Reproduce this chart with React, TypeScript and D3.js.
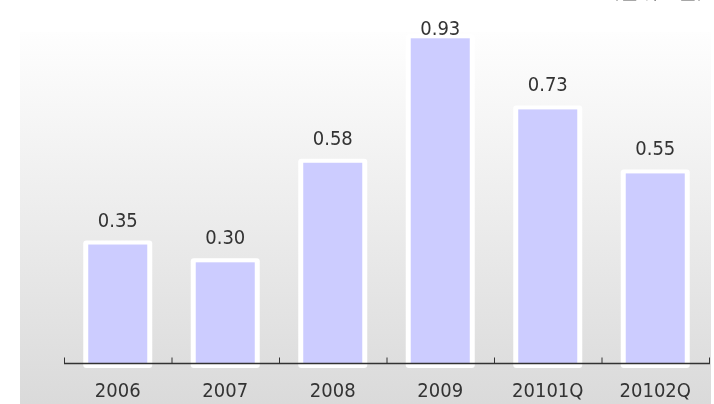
import React from "react";
import * as d3 from "d3";

const categories = ["2006", "2007", "2008", "2009", "20101Q", "20102Q"];
const values = [0.35, 0.3, 0.58, 0.93, 0.73, 0.55];
const unitLabel = "(단위 : 원)";

const W = 714;
const H = 404;
const font = "Tahoma, 'DejaVu Sans Condensed', 'Liberation Sans', sans-serif";

export default function App() {
  const x = d3.scaleBand().domain(categories).range([64, 709]).padding(0);
  const y = d3.scaleLinear().domain([0, 1]).range([369, 13.4]);
  const axisY = 363.5;
  const bw = 59;

  return (
    <svg
      width={W}
      height={H}
      style={{ position: "fixed", left: 0, top: 0, display: "block" }}
    >
      <defs>
        <linearGradient id="bg" x1="0" y1="0" x2="0" y2="1">
          <stop offset="0" stopColor="#fefefe" />
          <stop offset="1" stopColor="#dadada" />
        </linearGradient>
      </defs>
      <rect x={20} y={32} width={691} height={H - 32} fill="url(#bg)" />

      {/* unit label sits mostly above the top edge, as in the source */}
      <text
        x={658}
        y={-2}
        textAnchor="middle"
        fontFamily={font}
        fontSize={20}
        fill="#555"
      >
        {unitLabel}
      </text>

      {categories.map((c, i) => {
        const cx = (x(c) as number) + x.bandwidth() / 2;
        const top = y(values[i]);
        return (
          <g key={c}>
            <rect
              x={cx - bw / 2 - 5}
              y={top - 4}
              width={bw + 10}
              height={368 - (top - 4)}
              rx={3}
              fill="#ffffff"
            />
            <rect
              x={cx - bw / 2}
              y={top}
              width={bw}
              height={axisY - top}
              fill="#ccccff"
            />
            <text
              x={cx}
              y={Math.max(top - 18, 35)}
              textAnchor="middle"
              fontFamily={font}
              fontSize={20}
              fill="#333"
            >
              {values[i].toFixed(2)}
            </text>
            <text
              x={cx}
              y={397}
              textAnchor="middle"
              fontFamily={font}
              fontSize={20}
              fill="#333"
            >
              {c}
            </text>
          </g>
        );
      })}

      <line
        x1={64}
        x2={710}
        y1={axisY}
        y2={axisY}
        stroke="#333"
        strokeWidth={1.5}
      />
      {[...categories.map((c) => x(c) as number), 709].map((t, i) => (
        <line
          key={i}
          x1={t + 0.5}
          x2={t + 0.5}
          y1={axisY}
          y2={axisY - 6}
          stroke="#333"
          strokeWidth={1}
        />
      ))}
    </svg>
  );
}
